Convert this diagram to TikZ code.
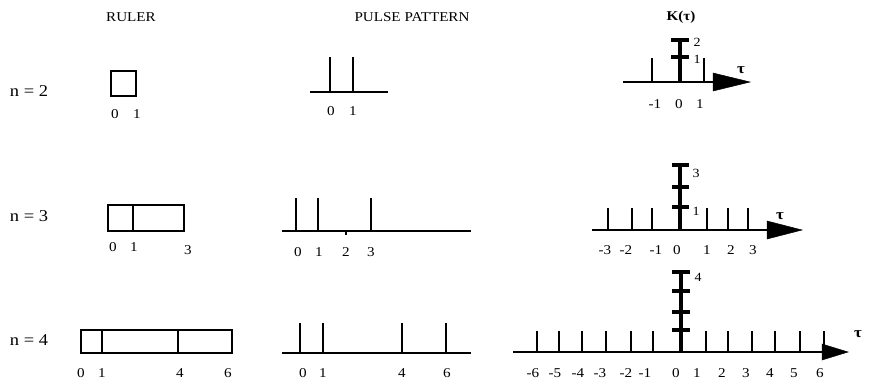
\documentclass[tikz,border=0pt]{standalone}
\usepackage{fontspec}
\setmainfont[FakeStretch=1.12]{Liberation Serif}
\begin{document}
\begin{tikzpicture}[x=1pt,y=-1pt,
  lbl/.style={font=\fontsize{13.5}{13.5}\selectfont, inner sep=0pt},
  smalllbl/.style={font=\fontsize{12.5}{12.5}\selectfont, inner sep=0pt},
  taulbl/.style={font=\fontsize{15}{15}\selectfont\bfseries, inner sep=0pt},
  rowlbl/.style={font=\fontsize{16.5}{16.5}\selectfont, inner sep=0pt},
  hdr/.style={font=\fontsize{13.5}{13.5}\selectfont, inner sep=0pt},
  rulerbox/.style={draw, line width=2.5pt},
  thin2/.style={line width=2.5pt},
  pulseline/.style={line width=2.3pt},
  spike/.style={line width=3.5pt},
  tip/.style={fill=black, draw=black, line width=0.5pt, line join=miter}]
\useasboundingbox (0,0) rectangle (872,381);

% headers
\node[hdr] (hruler) at (131,17) {RULER};
\node[hdr] (hpulse) at (412,17) {PULSE PATTERN};
\node[hdr, font=\fontsize{13.5}{13.5}\selectfont\bfseries] (hk) at (681,17) {K(τ)};

% row labels
\node[rowlbl] (n2) at (29,91) {n = 2};
\node[rowlbl] (n3) at (29,216) {n = 3};
\node[rowlbl] (n4) at (29,340) {n = 4};

% ===== Rulers =====
\draw[rulerbox] (111,71) rectangle (136,96);
\node[lbl] (r1a) at (115,114) {0};
\node[lbl] (r1b) at (137,114) {1};

\draw[rulerbox] (108,205) rectangle (184,231);
\draw[thin2] (133,205) -- (133,231);
\node[lbl] (r2a) at (113,247) {0};
\node[lbl] (r2b) at (134,247) {1};
\node[lbl] (r2c) at (188,250) {3};

\draw[rulerbox] (81,330) rectangle (232,353);
\draw[thin2] (102,330) -- (102,353);
\draw[thin2] (178,330) -- (178,353);
\node[lbl] (r3a) at (81,373) {0};
\node[lbl] (r3b) at (102,373) {1};
\node[lbl] (r3c) at (180,373) {4};
\node[lbl] (r3d) at (228,373) {6};

% ===== Pulse patterns =====
\draw[pulseline] (310,92) -- (388,92);
\foreach \x in {330,353} \draw[pulseline] (\x,92) -- (\x,57);
\node[lbl] (p1a) at (331,111) {0};
\node[lbl] (p1b) at (353,111) {1};

\draw[pulseline] (282,231) -- (471,231);
\foreach \x in {296,318,371} \draw[pulseline] (\x,231) -- (\x,198);
\draw[line width=2.3pt] (346,230) -- (346,235);
\node[lbl] (p2a) at (298,252) {0};
\node[lbl] (p2b) at (319,252) {1};
\node[lbl] (p2c) at (346,252) {2};
\node[lbl] (p2d) at (371,252) {3};

\draw[pulseline] (282,353) -- (471,353);
\foreach \x in {300,323,402,446} \draw[pulseline] (\x,353) -- (\x,323);
\node[lbl] (p3a) at (303,373) {0};
\node[lbl] (p3b) at (323,373) {1};
\node[lbl] (p3c) at (402,373) {4};
\node[lbl] (p3d) at (447,373) {6};

% ===== K(tau) row 1 =====
\coordinate (k1s) at (623,82);
\coordinate (k1e) at (714,82);
\draw[thin2] (k1s) -- (k1e);
\fill[tip] (713,73) -- (750,82) -- (713,91) -- cycle;
\foreach \x in {652,704} \draw[pulseline] (\x,82) -- (\x,58);
\draw[spike] (680,82) -- (680,40);
\foreach \y in {40,57} \draw[spike] (671,\y) -- (689,\y);
\node[smalllbl] (k1v2) at (697,42) {2};
\node[smalllbl] (k1v1) at (697,59) {1};
\node[taulbl] (k1t) at (741,70) {τ};
\node[lbl] (k1a) at (655,104) {-1};
\node[lbl] (k1b) at (679,104) {0};
\node[lbl] (k1c) at (700,104) {1};

% ===== K(tau) row 2 =====
\coordinate (k2s) at (592,230);
\coordinate (k2e) at (768,230);
\draw[thin2] (k2s) -- (k2e);
\fill[tip] (767,221) -- (802,230) -- (767,239) -- cycle;
\foreach \x in {608,632,652,707,728,748} \draw[pulseline] (\x,230) -- (\x,208);
\draw[spike] (680,230) -- (680,165);
\foreach \y in {165,187,207} \draw[spike] (672,\y) -- (689,\y);
\node[smalllbl] (k2v3) at (696,173) {3};
\node[smalllbl] (k2v1) at (696,211) {1};
\node[taulbl] (k2t) at (780,216) {τ};
\foreach \v/\x in {-3/605,-2/626,-1/656,0/677,1/707,2/731,3/753}
  \node[lbl] (k2l\v) at (\x,250) {\v};

% ===== K(tau) row 3 =====
\coordinate (k3s) at (513,352);
\coordinate (k3e) at (824,352);
\draw[thin2] (k3s) -- (k3e);
\fill[tip] (822,344) -- (848,352) -- (822,360) -- cycle;
\foreach \x in {537,559,582,606,631,653,706,728,752,775,800,824} \draw[pulseline] (\x,352) -- (\x,331);
\draw[spike] (681,352) -- (681,272);
\foreach \y in {272,291,312,330} \draw[spike] (672,\y) -- (690,\y);
\node[smalllbl] (k3v4) at (698,277) {4};
\node[taulbl] (k3t) at (858,334) {τ};
\foreach \v/\x in {-6/533,-5/555,-4/578,-3/600,-2/626,-1/645,0/676,1/697,2/722,3/746,4/770,5/794,6/820}
  \node[lbl] (k3l\v) at (\x,373) {\v};
\end{tikzpicture}
\end{document}
